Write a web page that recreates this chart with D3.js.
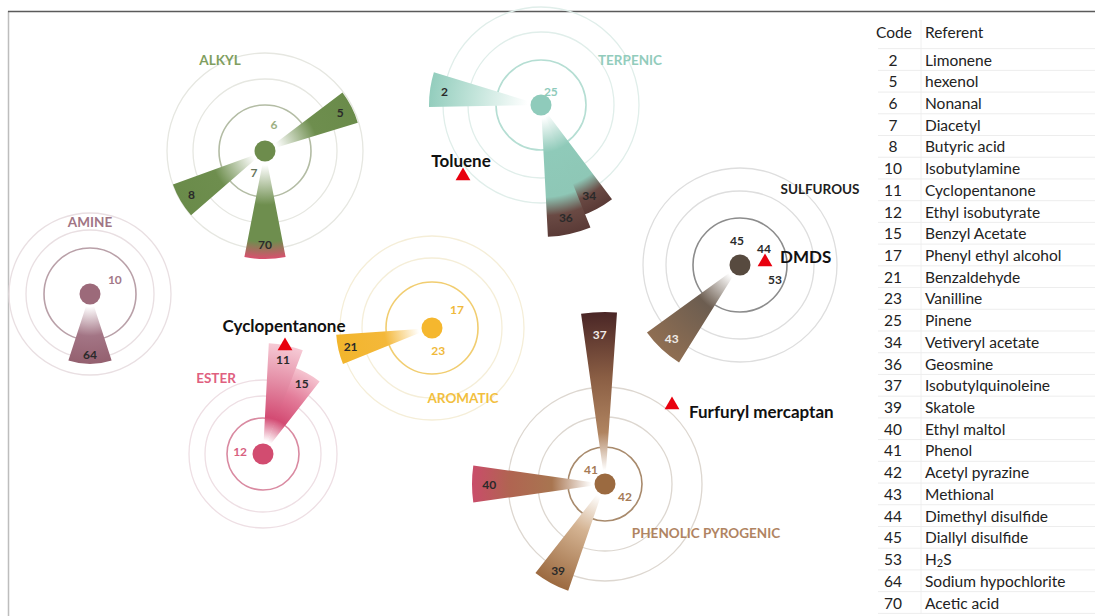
<!DOCTYPE html>
<html><head><meta charset="utf-8">
<script src="https://cdn.jsdelivr.net/npm/d3@7/dist/d3.min.js"></script>
<style>
html,body{margin:0;padding:0;background:#fff;}
svg{display:block;font-family:Lato,"Open Sans",sans-serif;}
</style></head>
<body>
<svg id="chart" width="1095" height="616"></svg>
<script>
// ---------- DATA ----------
const clusters  = ["ALKYL","AMINE","TERPENIC","SULFUROUS","AROMATIC","ESTER","PHENOLIC PYROGENIC"];
const clusterX  = [25.6, 8.1, 53.2, 73.1, 42.3, 25.4, 59.6];
const clusterY  = [14.0, 28.3, 9.4, 25.4, 31.7, 44.3, 47.3];
const ringLevels = [[4.6,7.2,9.8],[4.6,6.4,8.1],[4.5,7.3,9.8],[4.7,7.4,9.7],[4.6,7.0,9.2],[3.6,5.8,7.4],[3.7,6.7,9.7]];

const wedgeCodes   = [5, 8, 70, 64, 2, 34, 36, 43, 21, 15, 11, 37, 40, 39];
const wedgeCluster = ["ALKYL","ALKYL","ALKYL","AMINE","TERPENIC","TERPENIC","TERPENIC","SULFUROUS","AROMATIC","ESTER","ESTER","PHENOLIC PYROGENIC","PHENOLIC PYROGENIC","PHENOLIC PYROGENIC"];
const wedgeAngle   = [63, 239.5, 180, 180, 278, 152, 167.5, 223, 257, 29, 12, 358, 270, 208.5];
const wedgeSpan    = [20, 21, 22, 36, 18, 18, 19, 22, 18, 18, 18, 12, 16, 19];
const wedgeLength  = [9.7, 9.8, 10.8, 7.0, 11.2, 11.8, 13.2, 11.5, 9.6, 9.2, 11.1, 17.2, 13.3, 11.3];

const pointCodes   = [6, 7, 10, 25, 45, 44, 53, 17, 23, 12, 41, 42];
const pointCluster = ["ALKYL","ALKYL","AMINE","TERPENIC","SULFUROUS","SULFUROUS","SULFUROUS","AROMATIC","AROMATIC","ESTER","PHENOLIC PYROGENIC","PHENOLIC PYROGENIC"];
const pointAngle   = [19, 207.6, 59, 35.5, 353, 56, 111.8, 52.8, 165, 275, 317, 121];
const pointDist    = [2.75, 2.37, 2.9, 1.7, 2.5, 2.9, 3.77, 3.14, 2.38, 2.3, 2.05, 2.33];

const odorants = ["Toluene","Cyclopentanone","DMDS","Furfuryl mercaptan"];
const odorX    = [45.4, 27.6, 75.6, 66.3];
const odorY    = [16.5, 33.5, 25.1, 39.4];

const tableCodes = ["2","5","6","7","8","10","11","12","15","17","21","23","25","34","36","37","39","40","41","42","43","44","45","53","64","70"];
const tableNames = ["Limonene","hexenol","Nonanal","Diacetyl","Butyric acid","Isobutylamine","Cyclopentanone","Ethyl isobutyrate","Benzyl Acetate","Phenyl ethyl alcohol","Benzaldehyde","Vanilline","Pinene","Vetiveryl acetate","Geosmine","Isobutylquinoleine","Skatole","Ethyl maltol","Phenol","Acetyl pyrazine","Methional","Dimethyl disulfide","Diallyl disulfide","H2S","Sodium hypochlorite","Acetic acid"];

// ---------- STYLES ----------
const clusterStyle = {
  "ALKYL":      {dot:"#6d8c4c", ring0:"#b3bca4", ring:"#e6e7e1", label:"#7f9e60", pt:["#9cb083","#66745a"], lab:[-45,-91]},
  "AMINE":      {dot:"#9c6a7a", ring0:"#b9a0a8", ring:"#e9dfe2", label:"#a07585", pt:["#a37888"], lab:[0,-72]},
  "TERPENIC":   {dot:"#8fcbbb", ring0:"#b5ded3", ring:"#e0eeea", label:"#92ccbc", pt:["#8fcbbb"], lab:[89,-45]},
  "SULFUROUS":  {dot:"#574a3f", ring0:"#8c8c8c", ring:"#dedede", label:"#1e1e1e", pt:["#2a2a2a","#2a2a2a","#2a2a2a"], lab:[80,-76]},
  "AROMATIC":   {dot:"#f5b72e", ring0:"#f1cd70", ring:"#f5eed8", label:"#f2bf40", pt:["#f0b93a","#f0b93a"], lab:[31,70]},
  "ESTER":      {dot:"#d24c70", ring0:"#d98aa1", ring:"#eedfe4", label:"#e0607f", pt:["#d8607f"], lab:[-47,-76]},
  "PHENOLIC PYROGENIC": {dot:"#9b6a40", ring0:"#a88a6c", ring:"#ddd7d0", label:"#b08462", pt:["#a57a55","#a57a55"], lab:[101,49]}
};
const wedgeStops = {
  5:  [[0.13,"#ffffff"],[0.55,"#6e8e4e"],[1,"#6a8b4a"]],
  8:  [[0.13,"#ffffff"],[0.55,"#6e8e4e"],[1,"#6a8b4a"]],
  70: [[0.13,"#ffffff"],[0.5,"#6e8e4e"],[0.84,"#6e8e4e"],[1,"#d9506e"]],
  64: [[0.18,"#ffffff"],[0.6,"#a37585"],[1,"#94606f"]],
  2:  [[0.12,"#ffffff"],[0.6,"#c2e4da"],[1,"#93cdbd"]],
  34: [[0.1,"#ffffff"],[0.4,"#8fcab9"],[0.72,"#8ec7b6"],[0.86,"#6a4a44"],[1,"#5a3a36"]],
  36: [[0.1,"#ffffff"],[0.36,"#8fcab9"],[0.7,"#8ec7b6"],[0.84,"#6a4a44"],[1,"#5a3a36"]],
  43: [[0.12,"#ffffff"],[0.45,"#6c5d50"],[1,"#8f6e52"]],
  21: [[0.14,"#ffffff"],[0.5,"#f4b83a"],[1,"#f2b52c"]],
  15: [[0.14,"#ffffff"],[0.4,"#d34b73"],[0.7,"#e37d9a"],[1,"#f5c4d0"]],
  11: [[0.12,"#ffffff"],[0.33,"#d34b73"],[0.65,"#e38aa3"],[1,"#f6cad5"]],
  37: [[0.08,"#ffffff"],[0.3,"#b08460"],[0.62,"#8a5e44"],[1,"#4a2626"]],
  40: [[0.1,"#ffffff"],[0.4,"#a87550"],[0.72,"#b06451"],[1,"#c94d6a"]],
  39: [[0.12,"#ffffff"],[0.45,"#d4b392"],[1,"#9c6a40"]]
};
const wedgeLabelColor = {37:"#f2ece8", 43:"#f0ece8"};
const odorLabel = [
  {dx:-2, dy:-16, anchor:"middle"},
  {dx:-1, dy:-21, anchor:"middle"},
  {dx:15, dy:-6, anchor:"start"},
  {dx:17, dy:6, anchor:"start"}
];

// ---------- SCALES ----------
const W = 1095, H = 616;
const x = d3.scaleLinear().domain([0, 85]).range([9, 859]);
const y = d3.scaleLinear().domain([0, 59.5]).range([11, 606]);
const r = d3.scaleLinear().domain([0, 10]).range([0, 100]);
const deg = d => d * Math.PI / 180;

const svg = d3.select("#chart");
const defs = svg.append("defs");

// frame
svg.append("line").attr("x1", 8.5).attr("x2", 8.5).attr("y1", 11).attr("y2", H)
  .attr("stroke", "#bdbdbd").attr("stroke-width", 1.5);
svg.append("line").attr("x1", 8).attr("x2", W).attr("y1", 11.5).attr("y2", 11.5)
  .attr("stroke", "#5a5a5a").attr("stroke-width", 1.5);

const idx = name => clusters.indexOf(name);
const cx = name => x(clusterX[idx(name)]);
const cy = name => y(clusterY[idx(name)]);

// rings
const ringLayer = svg.append("g");
clusters.forEach((c, i) => {
  const st = clusterStyle[c];
  ringLevels[i].forEach((lv, k) => {
    ringLayer.append("circle")
      .attr("cx", x(clusterX[i])).attr("cy", y(clusterY[i])).attr("r", r(lv))
      .attr("fill", "none")
      .attr("stroke", k === 0 ? st.ring0 : st.ring)
      .attr("stroke-width", k === 0 ? 1.6 : 1.3);
  });
});

// wedges
const arc = d3.arc();
const wedgeLayer = svg.append("g");
wedgeCodes.forEach((code, i) => {
  const c = wedgeCluster[i];
  const outer = r(wedgeLength[i]);
  const g = defs.append("radialGradient").attr("id", "g" + code)
    .attr("gradientUnits", "userSpaceOnUse")
    .attr("cx", 0).attr("cy", 0).attr("fx", 0).attr("fy", 0).attr("r", outer);
  wedgeStops[code].forEach(s => g.append("stop").attr("offset", s[0]).attr("stop-color", s[1]));
  const a0 = deg(wedgeAngle[i] - wedgeSpan[i] / 2), a1 = deg(wedgeAngle[i] + wedgeSpan[i] / 2);
  wedgeLayer.append("path")
    .attr("transform", `translate(${cx(c)},${cy(c)})`)
    .attr("d", arc({innerRadius: 13, outerRadius: outer, startAngle: a0, endAngle: a1}))
    .attr("fill", `url(#g${code})`);
});

// dots
clusters.forEach((c, i) => {
  svg.append("circle").attr("cx", x(clusterX[i])).attr("cy", y(clusterY[i])).attr("r", 10.5)
    .attr("fill", clusterStyle[c].dot);
});

// wedge labels
wedgeCodes.forEach((code, i) => {
  const c = wedgeCluster[i];
  const rr = r(wedgeLength[i]) * 0.87;
  const a = deg(wedgeAngle[i]);
  svg.append("text")
    .attr("x", cx(c) + rr * Math.sin(a)).attr("y", cy(c) - rr * Math.cos(a))
    .attr("text-anchor", "middle").attr("dominant-baseline", "central")
    .attr("font-size", 12).attr("font-weight", 700)
    .attr("fill", wedgeLabelColor[code] || "#2a2a2a")
    .text(code);
});

// point codes (no wedge)
const ptCount = {};
pointCodes.forEach((code, i) => {
  const c = pointCluster[i];
  ptCount[c] = (ptCount[c] || 0);
  const col = clusterStyle[c].pt[ptCount[c]] || clusterStyle[c].pt[0];
  ptCount[c]++;
  const rr = r(pointDist[i]);
  const a = deg(pointAngle[i]);
  svg.append("text")
    .attr("x", cx(c) + rr * Math.sin(a)).attr("y", cy(c) - rr * Math.cos(a))
    .attr("text-anchor", "middle").attr("dominant-baseline", "central")
    .attr("font-size", 12).attr("font-weight", 700).attr("fill", col)
    .text(code);
});

// cluster labels
clusters.forEach((c, i) => {
  const st = clusterStyle[c];
  svg.append("text")
    .attr("x", x(clusterX[i]) + st.lab[0]).attr("y", y(clusterY[i]) + st.lab[1])
    .attr("text-anchor", "middle").attr("dominant-baseline", "central")
    .attr("font-size", 13.5).attr("font-weight", 700).attr("fill", st.label)
    .text(c);
});

// odorant markers
const tri = d3.symbol().type(d3.symbolTriangle).size(95);
odorants.forEach((o, i) => {
  const px = x(odorX[i]), py = y(odorY[i]);
  svg.append("path").attr("transform", `translate(${px},${py})`).attr("d", tri()).attr("fill", "#e8000e");
  const L = odorLabel[i];
  svg.append("text").attr("x", px + L.dx).attr("y", py + L.dy)
    .attr("text-anchor", L.anchor).attr("dominant-baseline", "central")
    .attr("font-size", 17).attr("font-weight", 700).attr("fill", "#111")
    .text(o);
});

// table
const tbl = svg.append("g");
const rowY = d3.scaleLinear().domain([0, tableCodes.length - 1]).range([59.5, 602.5]);
const rowH = rowY(1) - rowY(0);
tbl.append("line").attr("x1", 921).attr("x2", 921).attr("y1", 20).attr("y2", 614)
  .attr("stroke", "#f0f0f0").attr("stroke-width", 1);
d3.range(tableCodes.length + 1).forEach(k => {
  tbl.append("line").attr("x1", 878).attr("x2", W)
    .attr("y1", rowY(k) - rowH / 2).attr("y2", rowY(k) - rowH / 2)
    .attr("stroke", "#ededed").attr("stroke-width", 1);
});
tbl.append("text").attr("x", 894).attr("y", 31.5).attr("text-anchor", "middle")
  .attr("dominant-baseline", "central").attr("font-size", 15.5).attr("fill", "#222").text("Code");
tbl.append("text").attr("x", 925).attr("y", 31.5)
  .attr("dominant-baseline", "central").attr("font-size", 15.5).attr("fill", "#222").text("Referent");
tableCodes.forEach((c, k) => {
  tbl.append("text").attr("x", 893).attr("y", rowY(k)).attr("text-anchor", "middle")
    .attr("dominant-baseline", "central").attr("font-size", 15.5).attr("fill", "#222").text(c);
  const t = tbl.append("text").attr("x", 925).attr("y", rowY(k))
    .attr("dominant-baseline", "central").attr("font-size", 15.5).attr("fill", "#222");
  const name = tableNames[k];
  if (name === "H2S") {
    t.append("tspan").text("H");
    t.append("tspan").attr("font-size", 11).attr("dy", 3).text("2");
    t.append("tspan").attr("dy", -3).text("S");
  } else {
    t.text(name);
  }
});
</script>
</body></html>
